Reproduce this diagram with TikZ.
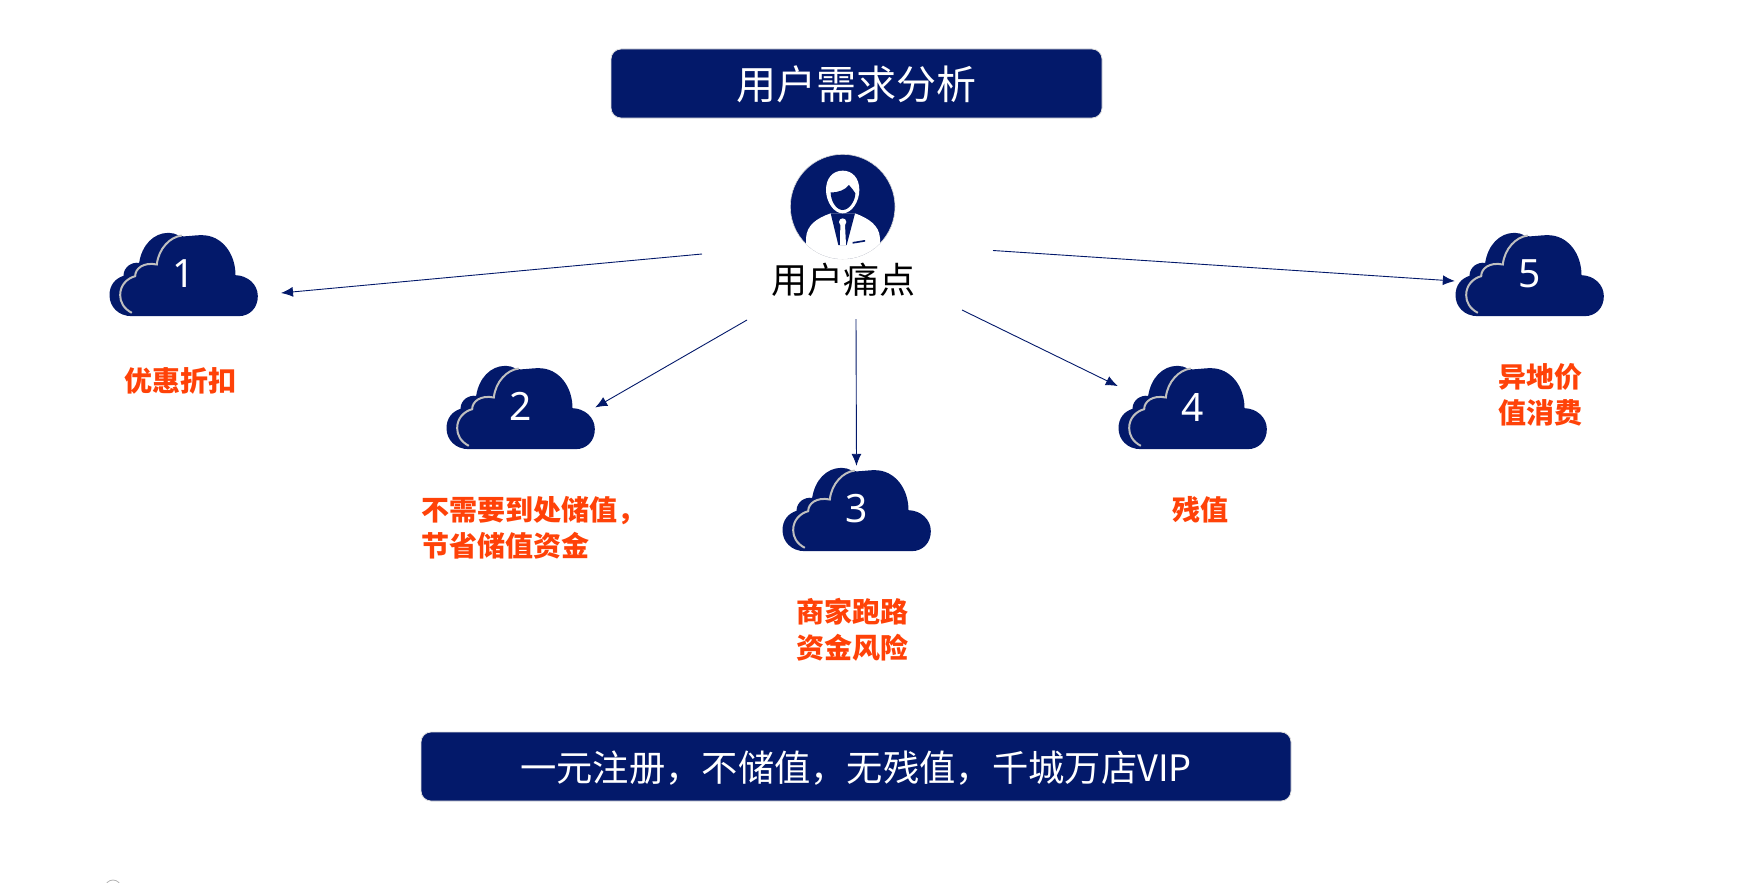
\documentclass[tikz,border=0pt]{standalone}
\usepackage{fontspec}
\setmainfont{Noto Sans}
\newfontfamily\cjk{Noto Sans CJK SC}
\usetikzlibrary{arrows.meta}
\definecolor{navy}{HTML}{03196A}
\definecolor{hotorange}{HTML}{FF4208}
\tikzset{
	bannerbox/.style={fill=navy, draw=black!12, line width=0.8pt, rounded corners=10pt, text=white, anchor=center},
	cloudbox/.style={minimum width=149pt, minimum height=83pt, inner sep=0pt, text=white, font=\fontsize{39}{45}\selectfont, anchor=center},
	painnote/.style={font=\cjk\bfseries\fontsize{28}{36}\selectfont, text=hotorange, inner sep=0pt},
	painlink/.style={navy, line width=0.9pt, -{Latex[length=12pt,width=10pt]}},
	cloudpic/.pic={
		\begin{scope}[scale=1/3, shift={(-280,-193)}]
			\fill[navy] (125,318) -- (445,318)
				.. controls (480,318) and (503,292) .. (503,258)
				.. controls (503,222) and (472,196) .. (436,195)
				.. controls (436,130) and (395,75) .. (335,75)
				.. controls (310,75) and (290,80) .. (268,78)
				.. controls (255,70) and (245,68) .. (235,68)
				.. controls (190,68) and (155,105) .. (147,158)
				.. controls (125,155) and (100,170) .. (100,197)
				.. controls (75,205) and (58,225) .. (58,255)
				.. controls (58,290) and (85,318) .. (125,318) -- cycle;
			\draw[black!25, line width=2pt] (125,308)
				.. controls (100,295) and (90,275) .. (90,255)
				.. controls (90,225) and (110,205) .. (135,198)
				.. controls (135,175) and (160,155) .. (200,163)
				.. controls (205,115) and (240,80) .. (275,76);
		\end{scope}
	}
}
\begin{document}
\begin{tikzpicture}[x=1pt, y=-1pt]
	\useasboundingbox (0,0) rectangle (1750,883);
	\node(title)[bannerbox, minimum width=491pt, minimum height=69pt, text height=36pt, text depth=3.6pt, font=\cjk\fontsize{40}{48}\selectfont] at (856.5, 83.5) {用户需求分析};
	\node(slogan)[bannerbox, minimum width=870pt, minimum height=69pt, text height=34pt, text depth=3.4pt, font=\cjk\fontsize{36.3}{44}\selectfont] at (856, 766.5) {一元注册，不储值，无残值，千城万店VIP};

	\begin{scope}[shift={(700,130)}, scale=1/3]
		\fill[navy, draw=black!15, line width=0.6pt] (428,230) circle (157);
		\clip (428,230) circle (157);
		\fill[white] (318,400) -- (318,325) .. controls (320,285) and (350,265) .. (392,250) -- (465,250) .. controls (505,265) and (538,285) .. (540,325) -- (540,400) -- cycle;
		\fill[navy] (392,250) -- (465,250) -- (440,345) -- (415,345) -- cycle;
		\fill[white] (428,276) circle (11);
		\fill[white] (421,284) -- (435,284) -- (438,345) -- (420,345) -- cycle;
		\fill[navy] (458,336) -- (495,330) -- (495,335) -- (458,341) -- cycle;
		\fill[white] (428,122) .. controls (458,122) and (478,145) .. (478,180) .. controls (478,215) and (455,250) .. (428,250) .. controls (401,250) and (378,215) .. (378,180) .. controls (378,145) and (398,122) .. (428,122) -- cycle;
		\fill[navy] (392,187) .. controls (415,188) and (435,180) .. (447,165) .. controls (455,175) and (462,182) .. (466,190) .. controls (466,212) and (448,240) .. (428,240) .. controls (408,240) and (392,212) .. (392,187) -- cycle;
	\end{scope}
	\node(pain)[anchor=center, inner sep=0pt, font=\cjk\fontsize{36}{40}\selectfont] at (843, 280) {用户痛点};

	\pic at (183.5, 274.5) {cloudpic};
	\pic at (520.5, 407.5) {cloudpic};
	\pic at (856.5, 509.5) {cloudpic};
	\pic at (1192.5, 407.5) {cloudpic};
	\pic at (1529.5, 274.5) {cloudpic};
	\node(cloud1)[cloudbox] at (183.5, 274.5) {\raisebox{1.5pt}{1}};
	\node(cloud2)[cloudbox] at (520.5, 407.5) {\raisebox{2pt}{2}};
	\node(cloud3)[cloudbox] at (856.5, 509.5) {\raisebox{3pt}{3}};
	\node(cloud4)[cloudbox] at (1192.5, 407.5) {\raisebox{1pt}{4}};
	\node(cloud5)[cloudbox] at (1529.5, 274.5) {\raisebox{1.5pt}{5}};

	\node(note1)[painnote, anchor=center] at (180, 381) {优惠折扣};
	\node(note2)[painnote, anchor=west, align=left] at (421, 528) {不需要到处储值，\\节省储值资金};
	\node(note3)[painnote, anchor=center, align=center] at (852, 630) {商家跑路\\资金风险};
	\node(note4)[painnote, anchor=center] at (1200, 510) {残值};
	\node(note5)[painnote, anchor=center, align=center] at (1540, 395) {异地价\\值消费};

	\coordinate (from1) at (702, 254);
	\coordinate (from2) at (747, 320);
	\coordinate (from3) at (856, 319);
	\coordinate (from4) at (962, 310);
	\coordinate (from5) at (993, 250.5);
	\coordinate (tip1) at (281, 293);
	\draw[painlink] (from1) -- (tip1);
	\draw[painlink] (from2) -- (cloud2.east);
	\draw[painlink, shorten >=2pt] (from3) -- (cloud3.north);
	\draw[painlink] (from4) -- (cloud4.164);
	\draw[painlink] (from5) -- (cloud5.185);

	\draw[black!30, line width=0.8pt] (105, 888) arc (180:360:8);
\end{tikzpicture}
\end{document}
